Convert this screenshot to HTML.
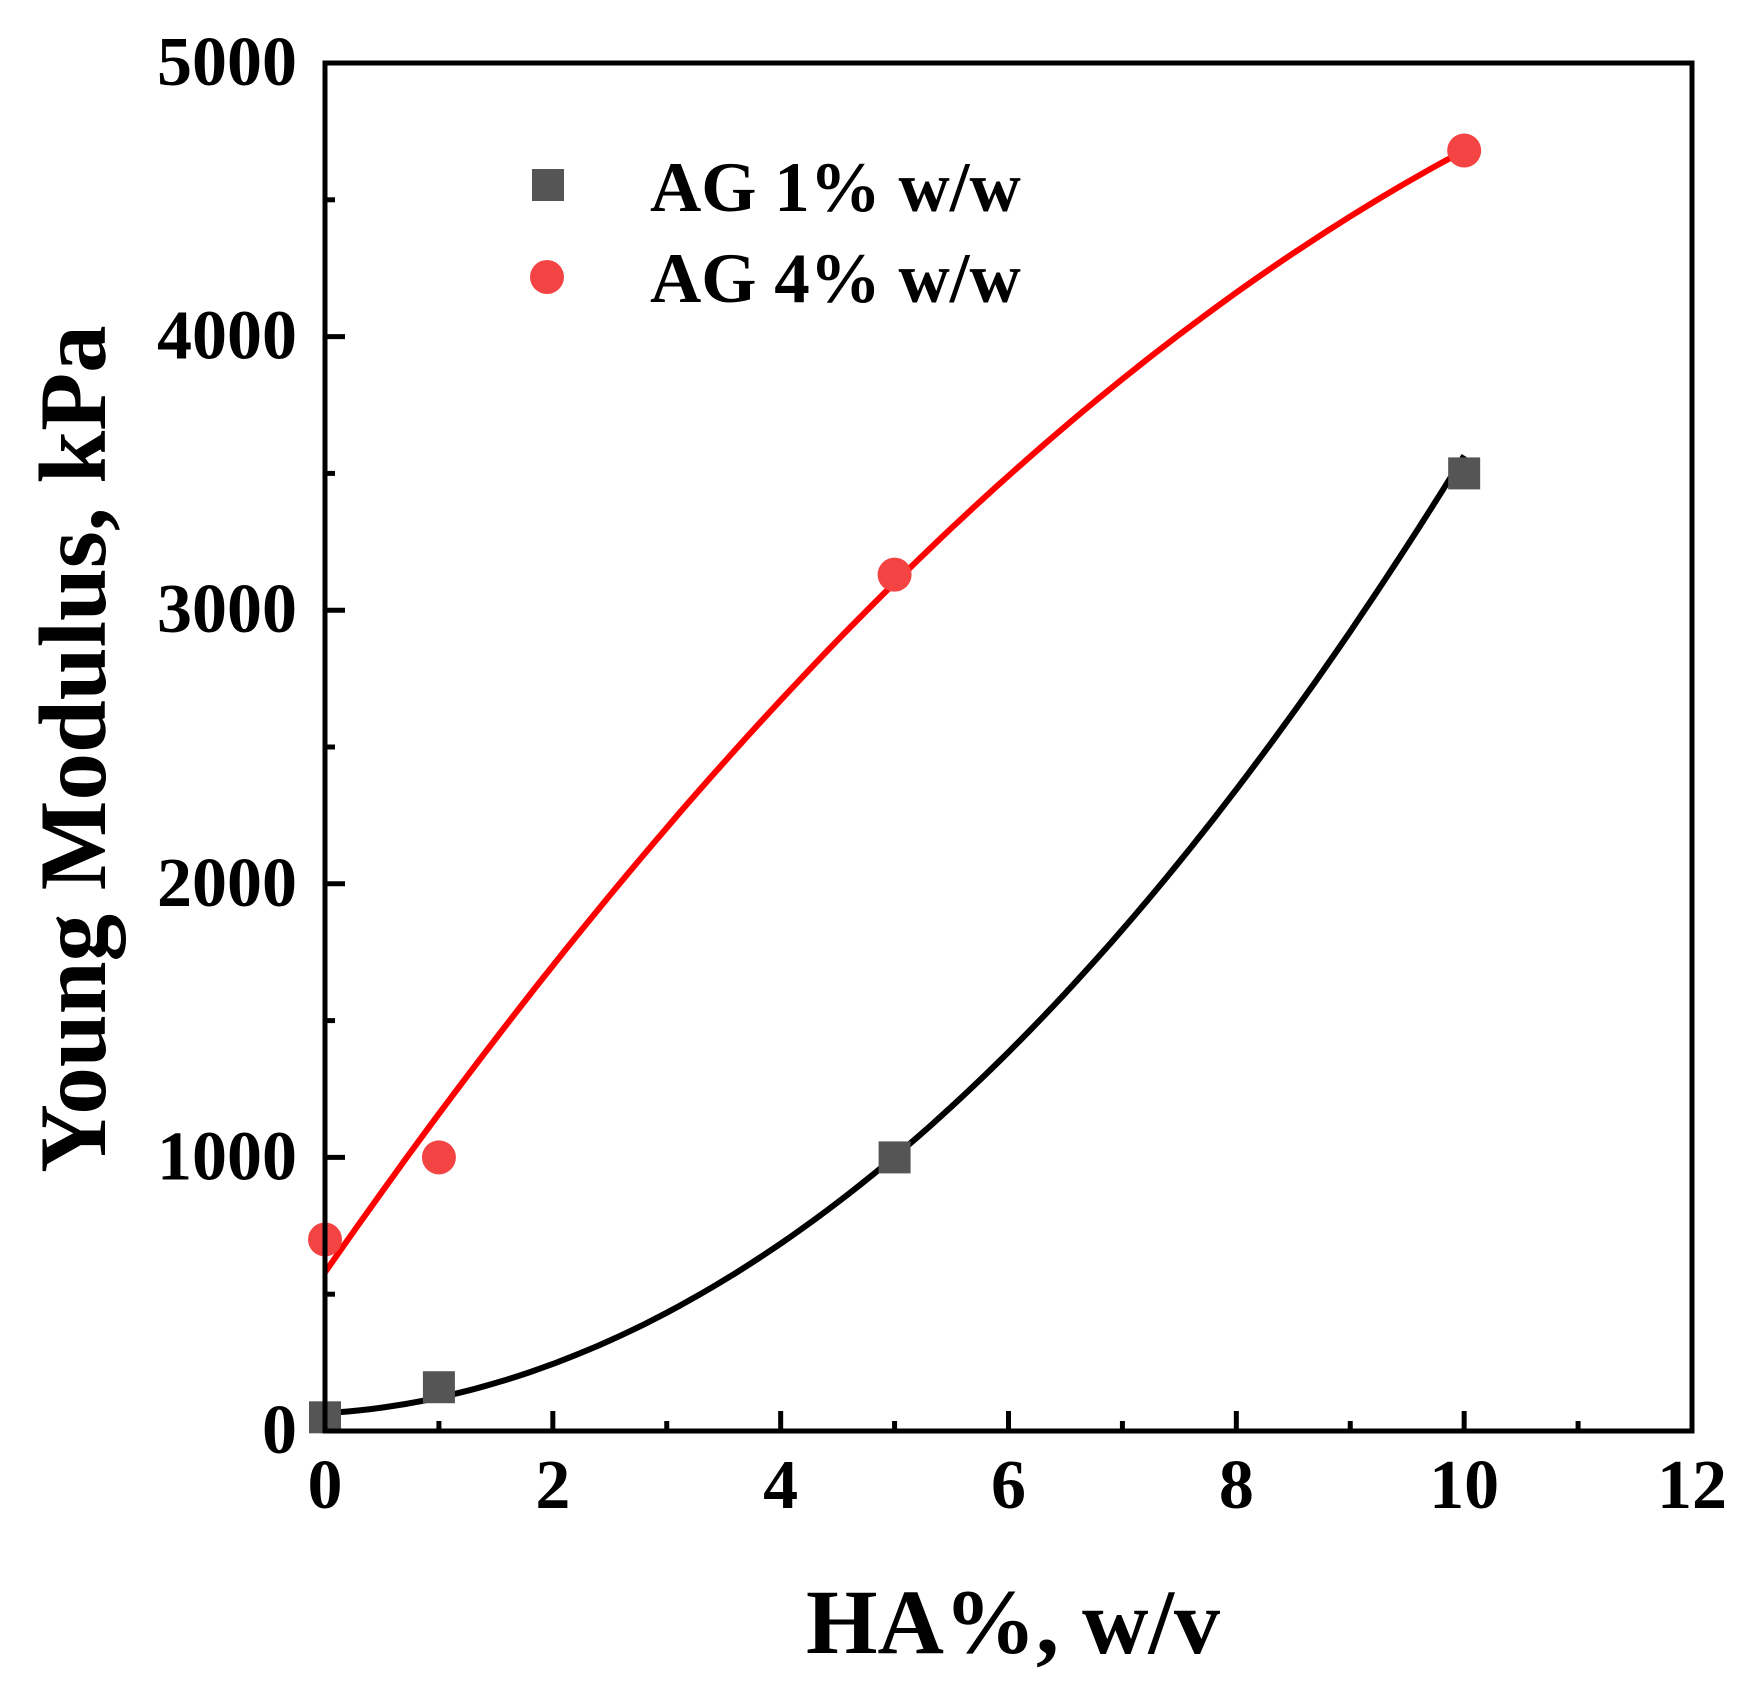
<!DOCTYPE html>
<html><head><meta charset="utf-8"><style>
body{margin:0;background:#fff}
svg{display:block;font-family:"Liberation Serif",serif;font-weight:bold}
</style></head><body>
<svg id="c" width="1757" height="1686" viewBox="0 0 1757 1686">
<g id="g"></g>
</svg>
<script>
const xTicks=[0,2,4,6,8,10,12];
const yTicks=[0,1000,2000,3000,4000,5000];
const xs=[0,1,5,10];
const ag1=[50,160,1000,3500];
const ag4=[700,1000,3130,4680];
const fit1=[65,25,32.5];
const fit4=[580,598,-18.8];
const L=325,R=1692,T=63,B=1431;
const X=v=>L+(v/12)*(R-L);
const Y=v=>B-(v/5000)*(B-T);
const g=document.getElementById('g');
const NS='http://www.w3.org/2000/svg';
function el(t,a,p){const e=document.createElementNS(NS,t);for(const k in a)e.setAttribute(k,a[k]);(p||g).appendChild(e);return e;}
function curve(c,col,name){let d='';for(let i=0;i<=100;i++){const x=i/10;const y=c[0]+c[1]*x+c[2]*x*x;d+=(i?'L':'M')+X(x).toFixed(1)+','+Y(y).toFixed(1);}
const p=el('path',{d:d,fill:'none',stroke:col,'stroke-width':6});

}
curve(fit1,'#000','fit-line-ag1');
curve(fit4,'#ff0000','fit-line-ag4');
xs.forEach((x,i)=>{
const s=el('rect',{x:X(x)-16,y:Y(ag1[i])-16,width:32,height:32,fill:'#555'});


const c=el('circle',{cx:X(x),cy:Y(ag4[i]),r:17,fill:'#f44343'});


});
const f=el('rect',{x:L,y:T,width:R-L,height:B-T,fill:'none',stroke:'#000','stroke-width':5});


for(let v=0;v<=12;v+=1){const maj=v%2===0;el('line',{x1:X(v),x2:X(v),y1:B,y2:B-(maj?20:10),stroke:'#000','stroke-width':5});}
xTicks.forEach(v=>{const t=el('text',{x:X(v),y:1508,'text-anchor':'middle','font-size':70});t.textContent=v;

});
for(let v=0;v<=5000;v+=500){const maj=v%1000===0;el('line',{x1:L,x2:L+(maj?20:10),y1:Y(v),y2:Y(v),stroke:'#000','stroke-width':5});}
yTicks.forEach(v=>{const t=el('text',{x:297,y:Y(v)+22,'text-anchor':'end','font-size':70});t.textContent=v;

});
</script>
<script>
const s2=document.getElementById('c');
s2.insertAdjacentHTML('beforeend',`
<text x="1013" y="1653" text-anchor="middle" font-size="92">HA%, w/v</text>
<text transform="translate(105,749) rotate(-90)" text-anchor="middle" font-size="95">Young Modulus, kPa</text>
<g>
<rect x="532" y="169" width="32" height="32" fill="#555"/>
<text x="650" y="211" font-size="71">AG 1% w/w</text>
<circle cx="547" cy="277" r="17" fill="#f44343"/>
<text x="650" y="302" font-size="71">AG 4% w/w</text>
</g>`);
</script>
</body></html>
